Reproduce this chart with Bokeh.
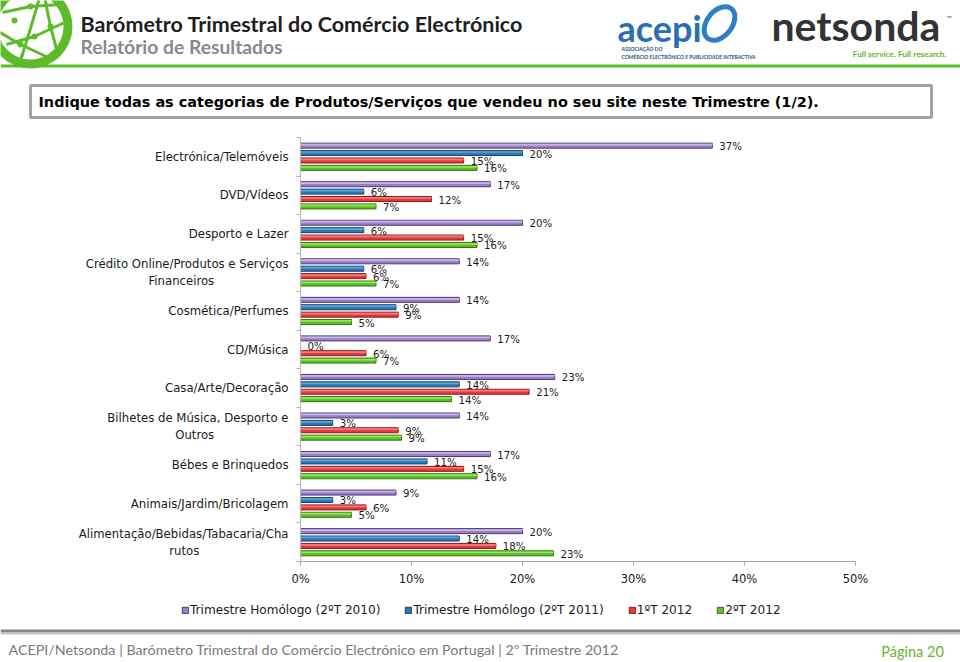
import math
from bokeh.plotting import figure
from bokeh.layouts import column
from bokeh.models import (Range1d, FixedTicker, PrintfTickFormatter, Label,
                          Legend, LegendItem, ColumnDataSource)
from bokeh.core.properties import value
from bokeh.embed import file_html
from bokeh.resources import INLINE

# ---------------- data ----------------
categories = [
    "Electrónica/Telemóveis",
    "DVD/Vídeos",
    "Desporto e Lazer",
    "Crédito Online/Produtos e Serviços\nFinanceiros",
    "Cosmética/Perfumes",
    "CD/Música",
    "Casa/Arte/Decoração",
    "Bilhetes de Música, Desporto e\nOutros",
    "Bébes e Brinquedos",
    "Animais/Jardim/Bricolagem",
    "Alimentação/Bebidas/Tabacaria/Cha\nrutos",
]
series_names = ["Trimestre Homólogo (2ºT 2010)", "Trimestre Homólogo (2ºT 2011)",
                "1ºT 2012", "2ºT 2012"]
t2_2010 = [37.1, 17.1, 20.0, 14.3, 14.3, 17.1, 22.9, 14.3, 17.1, 8.6, 20.0]
t2_2011 = [20.0, 5.7, 5.7, 5.7, 8.6, 0.0, 14.3, 2.9, 11.4, 2.9, 14.3]
t1_2012 = [14.7, 11.8, 14.7, 5.9, 8.8, 5.9, 20.6, 8.8, 14.7, 5.9, 17.6]
t2_2012 = [15.9, 6.8, 15.9, 6.8, 4.6, 6.8, 13.6, 9.1, 15.9, 4.6, 22.8]
x_ticks = [0, 10, 20, 30, 40, 50]

series = [t2_2010, t2_2011, t1_2012, t2_2012]
mid_colors = ["#9a7fc6", "#2f78b4", "#e23c3c", "#5cbf26"]
light_colors = ["#c8b6e6", "#5aa6e0", "#f77a7a", "#97e35a"]
edge_colors = ["#4e3a72", "#173f63", "#8a1a1a", "#357316"]

FONT = "DejaVu Sans"
GREEN = "#5dbb2a"
PAGE_W = 960
HEAD_H, MAIN_H, FOOT_H = 128, 467, 67
FL, FR, FT, FB = 300, 855, 137, 561   # chart frame in page pixels


def centered_lines(text):
    """Centre the lines of a multi-line axis label by padding with no-break spaces."""
    lines = text.split("\n")
    if len(lines) == 1:
        return text
    longest = max(len(s) for s in lines)
    out = []
    for s in lines:
        pad = round((longest - len(s)) * 0.85)
        out.append(s + "\u00a0" * pad)
    return "\n".join(out)


def deco_fig(height):
    f = figure(width=PAGE_W, height=height, x_range=Range1d(0, PAGE_W), y_range=Range1d(height, 0),
               x_axis_type=None, y_axis_type=None, output_backend="svg", toolbar_location=None,
               min_border_left=0, min_border_right=0, min_border_top=0, min_border_bottom=0,
               frame_align=False)
    f.outline_line_color = None
    f.xgrid.visible = False
    f.ygrid.visible = False
    f.background_fill_color = "white"
    f.border_fill_color = "white"
    return f


def label(f, text, x, y, size, color, font, style="normal", align="left"):
    f.add_layout(Label(x=x, y=y, text=text, text_font=font, text_font_size=size,
                       text_color=color, text_font_style=style, text_align=align,
                       text_baseline="middle"))


# ---------------- header ----------------
head = deco_fig(HEAD_H)
head.annulus(x=[30], y=[26], inner_radius=33, outer_radius=42, fill_color=GREEN, line_color=None)
head.multi_line(xs=[[2, 30, 60], [6, 34, 64], [20, 30, 40], [-4, 20, 50], [44, 50, 58]],
                ys=[[12, 6, 4], [44, 36, 22], [60, 28, -6], [30, 44, 58], [-4, 26, 56]],
                line_color=GREEN, line_width=3)
head.scatter(x=[30, 34, 20, 50, 14], y=[6, 36, 44, 26, 20], size=6, fill_color=GREEN, line_color=None)
label(head, "Barómetro Trimestral do Comércio Electrónico", 80, 23, "21.5px", "#1e1e1e", "Lato", "bold")
label(head, "Relatório de Resultados", 80, 46, "19.3px", "#8a8a8a", "Lato", "bold")

# acepi logo
label(head, "acepi", 617, 27, "36px", "#2a6fb5", "Lato", "bold")
head.ellipse(x=[719], y=[23], width=[38], height=[25], angle=[0.9], fill_color=None,
             line_color="#2f7fc6", line_width=5)
label(head, "ASSOCIAÇÃO DO", 621, 48, "5px", "#1f4f8a", "Lato", "bold")
label(head, "COMÉRCIO ELECTRÓNICO E PUBLICIDADE INTERACTIVA", 621, 56, "5px", "#1f4f8a", "Lato", "bold")

# netsonda logo
label(head, "netsonda", 771, 25, "41px", "#333333", "Lato", "bold")
label(head, "™", 946, 17, "7px", "#555555", "Lato")
label(head, "Full service. Full research.", 946, 53, "8.3px", "#6ab42d", "Lato", "bold", align="right")

# green rule
head.quad(left=[0], right=[PAGE_W], top=[64], bottom=[67], fill_color=GREEN, line_color=None)

# question box
head.quad(left=[30], right=[931], top=[85], bottom=[117], fill_color="white",
          line_color="#a2a2a2", line_width=3)
label(head, "Indique todas as categorias de Produtos/Serviços que vendeu no seu site neste Trimestre (1/2).",
      38, 101, "14.45px", "#000000", FONT, "bold")

# ---------------- main chart ----------------
n = len(categories)
p = figure(width=PAGE_W, height=MAIN_H, x_range=Range1d(0, 50), y_range=Range1d(n, 0),
           output_backend="svg", toolbar_location=None, frame_align=False,
           min_border_left=FL, min_border_right=PAGE_W - FR,
           min_border_top=FT - HEAD_H, min_border_bottom=HEAD_H + MAIN_H - FB)
p.outline_line_color = None
p.xgrid.visible = False
p.ygrid.visible = False
p.background_fill_color = "white"
p.border_fill_color = "white"

p.xaxis.ticker = FixedTicker(ticks=x_ticks)
p.xaxis.formatter = PrintfTickFormatter(format="%d%%")
p.xaxis.axis_line_color = "#a8a8a8"
p.xaxis.major_tick_line_color = "#a8a8a8"
p.xaxis.major_tick_out = 4
p.xaxis.major_tick_in = 0
p.xaxis.minor_tick_line_color = None
p.xaxis.major_label_standoff = 6
p.xaxis.major_label_text_font = FONT
p.xaxis.major_label_text_font_size = "11.5px"
p.xaxis.major_label_text_color = "#1a1a1a"

centers = [g + 0.5 for g in range(n)]
p.yaxis.ticker = FixedTicker(ticks=centers, minor_ticks=list(range(n + 1)))
p.yaxis.major_label_overrides = {c: centered_lines(name) for c, name in zip(centers, categories)}
p.yaxis.axis_line_color = "#b4b4b4"
p.yaxis.major_tick_line_color = None
p.yaxis.major_tick_out = 0
p.yaxis.major_tick_in = 0
p.yaxis.minor_tick_line_color = "#b4b4b4"
p.yaxis.minor_tick_out = 4
p.yaxis.minor_tick_in = 0
p.yaxis.major_label_standoff = 8
p.yaxis.major_label_text_font = FONT
p.yaxis.major_label_text_font_size = "11.7px"
p.yaxis.major_label_text_color = "#1a1a1a"

PITCH, BAR_H = 0.192, 0.13
for k, vals in enumerate(series):
    ys = [c + (k - 1.5) * PITCH for c in centers]
    src = ColumnDataSource(dict(
        y=ys, right=vals,
        y_hl=[y - 0.028 for y in ys],
        label=[f"{round(v)}%" for v in vals]))
    p.hbar(y="y", left=0, right="right", height=BAR_H, source=src,
           fill_color=mid_colors[k], line_color=edge_colors[k], line_width=1)
    p.hbar(y="y_hl", left=0, right="right", height=0.045, source=src,
           fill_color=light_colors[k], line_color=None)
    p.text(x="right", y="y", text="label", source=src, x_offset=7, y_offset=1,
           text_baseline="middle", text_align="left", text_font=value(FONT),
           text_font_size="10.2px", text_color="#1a1a1a")

# ---------------- footer (legend + page footer) ----------------
foot = deco_fig(FOOT_H)
FOOT_TOP = HEAD_H + MAIN_H
legend_items = []
for k, name in enumerate(series_names):
    # off-screen swatch renderer: only used to draw the legend key
    r = foot.quad(left=[-50], right=[-40], top=[-50], bottom=[-40], fill_color=mid_colors[k],
                  line_color=edge_colors[k], line_width=1)
    legend_items.append(LegendItem(label=name, renderers=[r]))
legend = Legend(items=legend_items, orientation="horizontal",
                location=(181, FOOT_H - (617 - FOOT_TOP)),
                border_line_color=None, background_fill_alpha=0,
                padding=0, margin=0, spacing=24, glyph_width=8, glyph_height=8,
                label_standoff=1, label_height=14, label_text_font=FONT,
                label_text_font_size="12.1px", label_text_color="#1a1a1a")
foot.add_layout(legend)

foot.quad(left=[0], right=[PAGE_W], top=[629 - FOOT_TOP], bottom=[632 - FOOT_TOP],
          fill_color="#858585", line_color=None)
foot.quad(left=[0], right=[PAGE_W], top=[632 - FOOT_TOP], bottom=[634 - FOOT_TOP],
          fill_color="#c4c4c4", line_color=None)
label(foot, "ACEPI/Netsonda | Barómetro Trimestral do Comércio Electrónico em Portugal | 2º Trimestre 2012",
      8, 649 - FOOT_TOP, "14.3px", "#7a7a7a", "Lato")
label(foot, "Página  20", 947, 651 - FOOT_TOP, "14.5px", "#6ab42d", "Lato", align="right")

page = column(head, p, foot, spacing=0)
open("out.html", "w").write(file_html(page, INLINE))
